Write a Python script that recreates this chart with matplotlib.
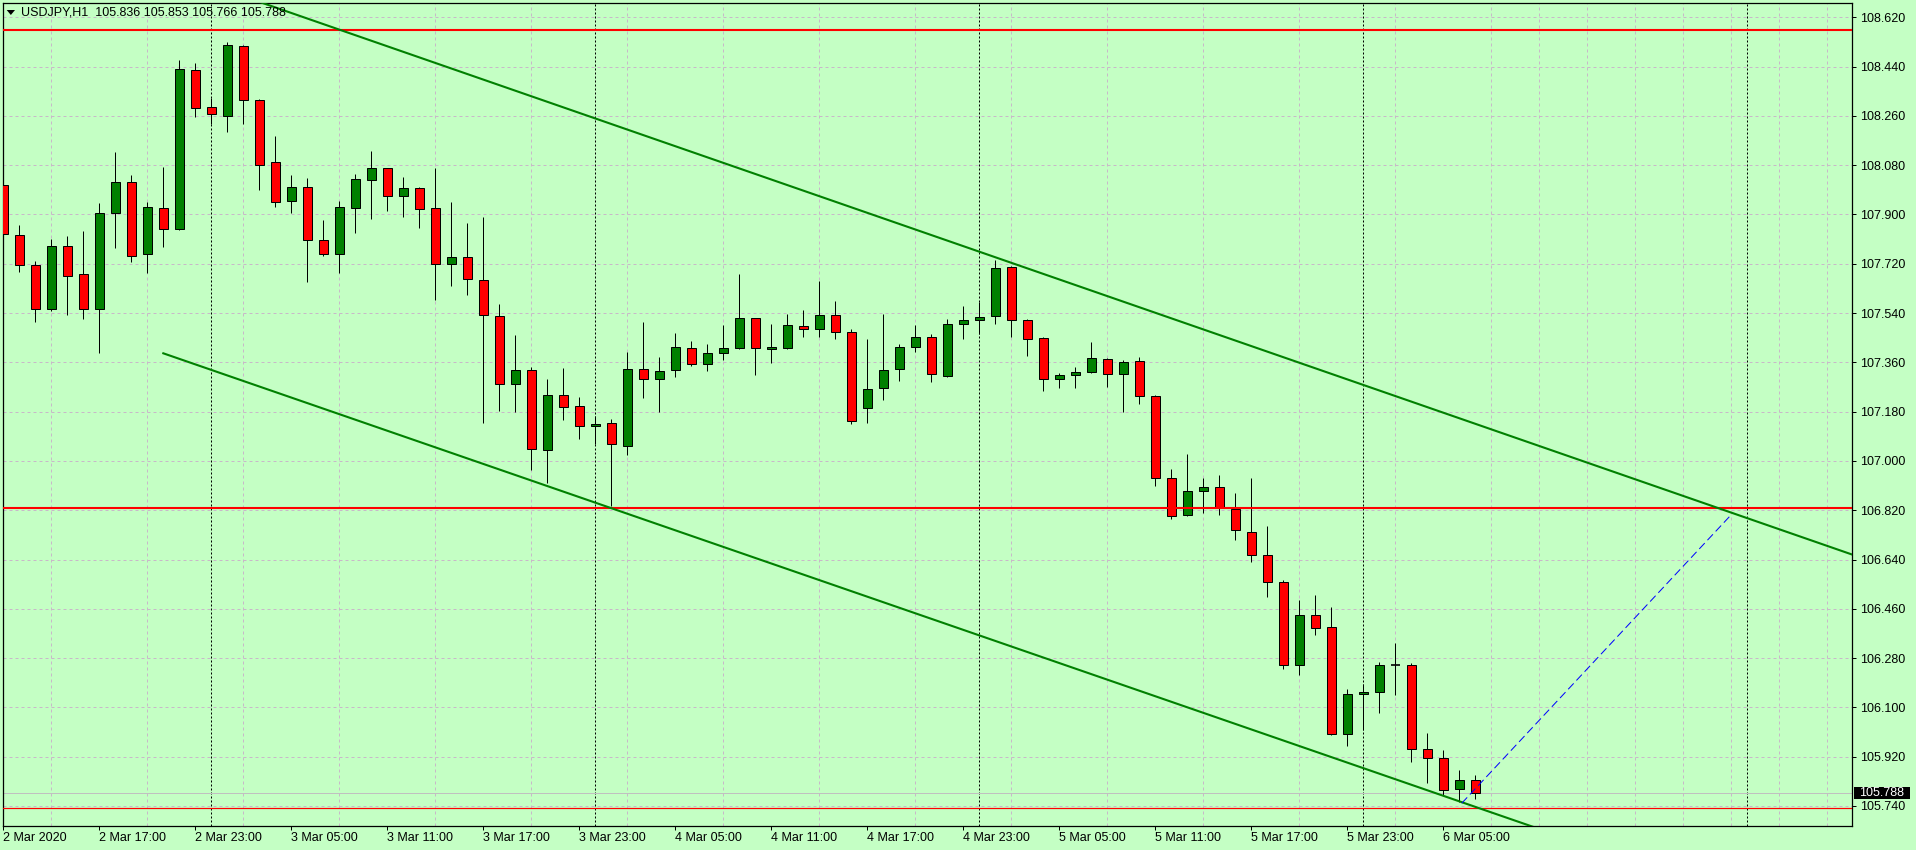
import numpy as np
import matplotlib
matplotlib.use('Agg')
import matplotlib.pyplot as plt
from matplotlib.patches import Rectangle, Polygon
import matplotlib.transforms as mtransforms

# USDJPY H1 candles, first bar = 2 Mar 2020 11:00
opens = [
    108.006, 107.824, 107.714, 107.554, 107.784, 107.681, 107.554, 107.904, 108.017, 107.755,
    107.922, 107.846, 108.426, 108.291, 108.258, 108.514, 108.317, 108.090, 107.948, 107.999,
    107.806, 107.755, 107.922, 108.025, 108.069, 107.966, 107.996, 107.922, 107.718, 107.744,
    107.660, 107.528, 107.280, 107.331, 107.039, 107.240, 107.199, 107.126, 107.137, 107.056,
    107.335, 107.298, 107.331, 107.411, 107.353, 107.393, 107.411, 107.521, 107.408, 107.411,
    107.492, 107.481, 107.532, 107.470, 107.192, 107.265, 107.335, 107.415, 107.451, 107.309,
    107.499, 107.513, 107.528, 107.707, 107.513, 107.448, 107.298, 107.313, 107.324, 107.371,
    107.316, 107.364, 107.236, 106.936, 106.801, 106.889, 106.904, 106.823, 106.739, 106.655,
    106.557, 106.254, 106.436, 106.392, 106.002, 106.148, 106.155, 106.256, 106.254, 105.947,
    105.914, 105.801, 105.836]
highs = [
    108.101, 107.860, 107.729, 107.810, 107.821, 107.840, 107.942, 108.127, 108.043, 107.946,
    108.073, 108.463, 108.452, 108.324, 108.529, 108.518, 108.321, 108.185, 108.043, 108.032,
    107.879, 107.949, 108.047, 108.131, 108.071, 108.036, 107.999, 108.069, 107.946, 107.868,
    107.890, 107.572, 107.459, 107.342, 107.298, 107.338, 107.232, 107.163, 107.152, 107.397,
    107.506, 107.378, 107.466, 107.437, 107.426, 107.495, 107.681, 107.521, 107.499, 107.535,
    107.550, 107.657, 107.583, 107.481, 107.444, 107.535, 107.426, 107.495, 107.462, 107.517,
    107.565, 107.579, 107.733, 107.711, 107.517, 107.451, 107.320, 107.342, 107.433, 107.375,
    107.367, 107.378, 107.240, 106.969, 107.024, 106.936, 106.947, 106.882, 106.936, 106.761,
    106.564, 106.491, 106.509, 106.465, 106.166, 106.184, 106.265, 106.334, 106.261, 106.005,
    105.943, 105.870, 105.853]
lows = [
    107.736, 107.691, 107.509, 107.546, 107.532, 107.517, 107.393, 107.776, 107.728, 107.685,
    107.780, 107.843, 108.257, 108.229, 108.200, 108.229, 107.988, 107.926, 107.904, 107.652,
    107.747, 107.685, 107.831, 107.882, 107.914, 107.890, 107.849, 107.587, 107.638, 107.605,
    107.140, 107.184, 107.179, 106.967, 106.919, 107.149, 107.080, 107.061, 106.837, 107.022,
    107.231, 107.179, 107.308, 107.348, 107.330, 107.370, 107.408, 107.315, 107.359, 107.408,
    107.454, 107.454, 107.446, 107.134, 107.140, 107.224, 107.293, 107.399, 107.289, 107.305,
    107.446, 107.462, 107.499, 107.451, 107.382, 107.257, 107.268, 107.268, 107.320, 107.269,
    107.180, 107.209, 106.907, 106.787, 106.799, 106.809, 106.801, 106.712, 106.632, 106.502,
    106.239, 106.217, 106.363, 106.000, 105.958, 106.016, 106.078, 106.144, 105.899, 105.823,
    105.779, 105.753, 105.766]
closes = [
    107.828, 107.714, 107.554, 107.784, 107.674, 107.554, 107.904, 108.017, 107.747, 107.926,
    107.846, 108.430, 108.288, 108.266, 108.518, 108.317, 108.080, 107.944, 107.999, 107.806,
    107.755, 107.926, 108.028, 108.069, 107.966, 107.996, 107.919, 107.718, 107.744, 107.663,
    107.532, 107.280, 107.331, 107.042, 107.240, 107.196, 107.126, 107.134, 107.061, 107.335,
    107.298, 107.327, 107.415, 107.353, 107.393, 107.411, 107.521, 107.411, 107.415, 107.495,
    107.481, 107.532, 107.470, 107.145, 107.261, 107.331, 107.415, 107.451, 107.316, 107.499,
    107.513, 107.524, 107.703, 107.513, 107.444, 107.298, 107.313, 107.324, 107.375, 107.316,
    107.360, 107.236, 106.936, 106.798, 106.889, 106.904, 106.827, 106.747, 106.655, 106.557,
    106.254, 106.436, 106.389, 106.002, 106.148, 106.155, 106.254, 106.256, 105.947, 105.914,
    105.797, 105.834, 105.788]

xtick_labels = ['2 Mar 2020', '2 Mar 17:00', '2 Mar 23:00', '3 Mar 05:00', '3 Mar 11:00',
                '3 Mar 17:00', '3 Mar 23:00', '4 Mar 05:00', '4 Mar 11:00', '4 Mar 17:00',
                '4 Mar 23:00', '5 Mar 05:00', '5 Mar 11:00', '5 Mar 17:00', '5 Mar 23:00',
                '6 Mar 05:00']
day_breaks = [13, 37, 61, 85, 109]          # bars at 00:00
hlines_red = [108.574, 106.828, 105.732]     # horizontal levels
upper_line = ([10, 116], [108.798, 106.649])  # channel
lower_line = ([10, 116], [107.393, 105.252])
blue_line = ([91.15, 107.92], [105.750, 106.799])
last_price = 105.788
title = 'USDJPY,H1  105.836 105.853 105.766 105.788'

bg = '#c4ffc4'
px = 0.72  # one pixel in points at dpi 100
W, H = 1916, 850

fig = plt.figure(figsize=(W / 100, H / 100), dpi=100, facecolor=bg)
ax = fig.add_axes([2.7 / W, 1 - 825.7 / H, (1852.3 - 2.7) / W, (825.7 - 2.7) / H])
ax.set_facecolor(bg)
ax.set_xlim(-0.0375, 115.56)
ax.set_ylim(105.668, 108.6733)

# grid
yt = np.round(np.arange(105.740, 108.621, 0.18), 3)
ax.set_yticks(yt)
ax.set_yticklabels(['%.3f' % v for v in yt])
ax.set_xticks(np.arange(0, 91, 6))
ax.set_xticklabels(xtick_labels)
ax.set_xticks(np.arange(0, 116, 3), minor=True)
gridkw = dict(color='#c8b8c8', lw=px, ls=(0, (3, 3)))
ax.grid(axis='y', which='major', **gridkw)
ax.grid(axis='x', which='minor', **gridkw)
ax.set_axisbelow(True)

ax.yaxis.tick_right()
ax.tick_params(axis='both', which='major', length=3, width=px, color='black',
               labelsize=9, labelcolor='black')
ax.tick_params(axis='y', pad=2.5)
ax.tick_params(axis='x', pad=1.5)
ax.tick_params(which='minor', length=0)
for lbl in ax.get_xticklabels():
    lbl.set_ha('left')
    lbl.set_family('Liberation Sans')
for lbl in ax.get_yticklabels():
    lbl.set_family('Liberation Sans')
for s in ax.spines.values():
    s.set_linewidth(0.9)
    s.set_color('black')

# day separators
for d in day_breaks:
    ax.axvline(d, color='black', lw=px, ls=(0, (2, 2)), zorder=1)

# current price line
ax.axhline(last_price, color='#c0c0c0', lw=px, zorder=1)

# candles
bw = 9 / 16
for i in range(len(opens)):
    o, h, l, c = opens[i], highs[i], lows[i], closes[i]
    ax.vlines(i, l, h, color='black', lw=px, zorder=3)
    if abs(c - o) < 0.0005:
        ax.hlines(o, i - bw / 2, i + bw / 2, color='black', lw=1.2, zorder=4)
        continue
    col = '#008000' if c > o else '#ff0000'
    ax.add_patch(Rectangle((i - bw / 2, min(o, c)), bw, abs(c - o), facecolor=col,
                           edgecolor='black', lw=px, zorder=4))

# objects
ax.axhline(hlines_red[0], color='#ff0000', lw=1.5, zorder=5)
ax.axhline(hlines_red[1], color='#ff0000', lw=1.5, zorder=5)
ax.axhline(hlines_red[2], color='#ff0000', lw=px * 1.2, zorder=5)
ax.plot(*upper_line, color='#008000', lw=1.5, zorder=5)
ax.plot(*lower_line, color='#008000', lw=1.5, zorder=5)
ax.plot(*blue_line, color='#0000ff', lw=px, ls=(0, (8, 4)), zorder=5)

# current price tag on the axis
tr = mtransforms.blended_transform_factory(fig.transFigure, ax.transData)
ax.add_patch(Rectangle((1854 / W, last_price - 5.8 / 273.85), 56 / W, 11.6 / 273.85,
                       transform=tr, facecolor='black', edgecolor='none', clip_on=False,
                       zorder=6))
ax.text(1859.3 / W, last_price, '%.3f' % last_price, transform=tr, color='white',
        fontsize=9, family='Liberation Sans', va='center', ha='left', zorder=7)

# header
fig.add_artist(Polygon([(6.7 / W, 1 - 10 / H), (15 / W, 1 - 10 / H), (10.85 / W, 1 - 15 / H)],
                       closed=True, transform=fig.transFigure, facecolor='black',
                       edgecolor='none'))
fig.text(21 / W, 1 - 12.7 / H, title, fontsize=9, family='Liberation Sans',
         va='center', ha='left', color='black')

fig.savefig('out.png', dpi=100, facecolor=bg)
